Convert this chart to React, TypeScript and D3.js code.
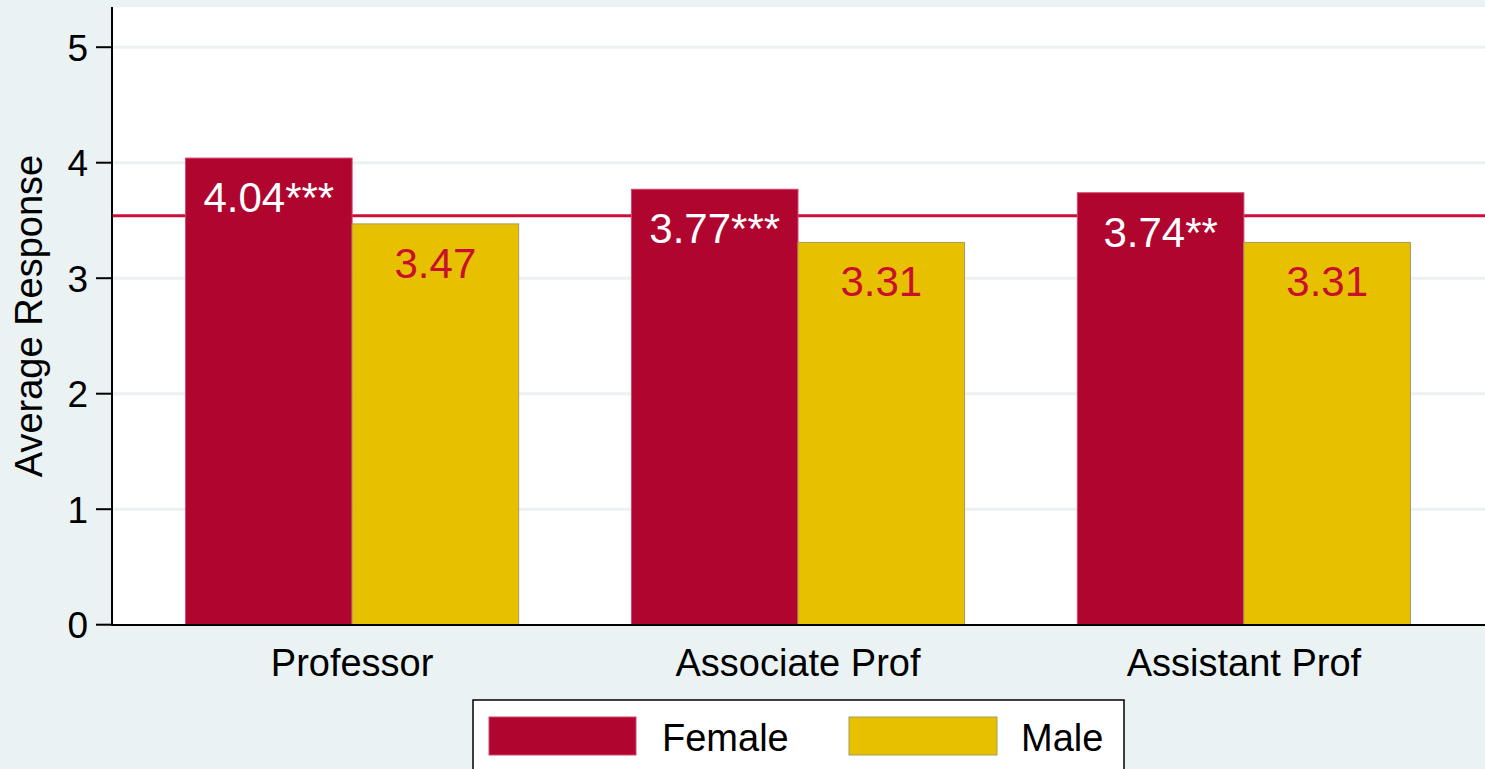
import * as d3 from 'd3';

const categories = ['Professor', 'Associate Prof', 'Assistant Prof'];
const femaleValues = [4.04, 3.77, 3.74];
const maleValues = [3.47, 3.31, 3.31];
const femaleLabels = ['4.04***', '3.77***', '3.74**'];
const maleLabels = ['3.47', '3.31', '3.31'];
const yTicks = [0, 1, 2, 3, 4, 5];
const referenceValue = 3.54;
const seriesNames = ['Female', 'Male'];

const W = 1485;
const H = 769;
const FONT = '"Liberation Sans", Arial, Helvetica, sans-serif';
const BG = '#eaf2f3';
const FEMALE = '#b0052f';
const MALE = '#e7c000';
const REDLINE = '#cc0e3a';
const LABEL_RED = '#c8102e';

const App = () => {
  const plot = { left: 112, top: 7, right: 1485, bottom: 625 };

  const y = d3.scaleLinear().domain([0, 5]).range([624.7, 47.2]);

  const x = d3.scaleBand()
    .domain(categories)
    .range([plot.left, 1484])
    .paddingInner(0.253)
    .paddingOuter(0.165);

  const sub = d3.scaleBand()
    .domain(seriesNames)
    .range([0, x.bandwidth()])
    .padding(0);

  const series = [
    { name: 'Female', values: femaleValues, labels: femaleLabels, fill: FEMALE, stroke: '#d4456a', textFill: '#ffffff' },
    { name: 'Male', values: maleValues, labels: maleLabels, fill: MALE, stroke: '#a99a5a', textFill: LABEL_RED },
  ];

  return (
    <div style={{ position: 'absolute', left: 0, top: 0 }}>
      <svg width={W} height={H} style={{ display: 'block' }} fontFamily={FONT}>
        <rect x={0} y={0} width={W} height={H} fill={BG} />
        <rect x={plot.left} y={plot.top} width={plot.right - plot.left} height={plot.bottom - plot.top} fill="#ffffff" />

        {/* gridlines */}
        {yTicks.filter(t => t > 0).map(t => (
          <line key={`g${t}`} x1={plot.left} x2={plot.right} y1={y(t)} y2={y(t)} stroke={BG} strokeWidth={3} />
        ))}

        {/* reference line */}
        <line x1={plot.left} x2={plot.right} y1={y(referenceValue)} y2={y(referenceValue)} stroke={REDLINE} strokeWidth={3} />

        {/* bars */}
        {series.map(s => categories.map((c, i) => {
          const bx = (x(c) ?? 0) + (sub(s.name) ?? 0);
          const by = y(s.values[i]);
          return (
            <g key={`${s.name}-${c}`}>
              <rect x={bx} y={by} width={sub.bandwidth()} height={y(0) - by} fill={s.fill} stroke={s.stroke} strokeWidth={1} />
              <text x={bx + sub.bandwidth() / 2} y={by + 54} textAnchor="middle" fontSize={42} fill={s.textFill}>
                {s.labels[i]}
              </text>
            </g>
          );
        }))}

        {/* y axis */}
        <line x1={plot.left} x2={plot.left} y1={plot.top} y2={plot.bottom} stroke="#000" strokeWidth={2} />
        {yTicks.map(t => (
          <g key={`t${t}`}>
            <line x1={96} x2={plot.left} y1={y(t)} y2={y(t)} stroke="#000" strokeWidth={2} />
            <text x={88} y={y(t)} dy="0.36em" textAnchor="end" fontSize={37} fill="#000">{t}</text>
          </g>
        ))}
        <text transform={`translate(42,${(plot.top + plot.bottom) / 2}) rotate(-90)`} textAnchor="middle" fontSize={38} fill="#000">
          Average Response
        </text>

        {/* x axis */}
        <line x1={plot.left - 1} x2={plot.right} y1={plot.bottom} y2={plot.bottom} stroke="#000" strokeWidth={2} />
        {categories.map(c => (
          <text key={c} x={(x(c) ?? 0) + x.bandwidth() / 2} y={676} textAnchor="middle" fontSize={38} fill="#000">{c}</text>
        ))}

        {/* legend */}
        <rect x={473} y={700} width={651} height={100} fill="#ffffff" stroke="#000" strokeWidth={1.5} />
        <rect x={489} y={717} width={147} height={38} fill={FEMALE} stroke="#d4456a" strokeWidth={1} />
        <text x={662} y={751} fontSize={38} fill="#000">Female</text>
        <rect x={849} y={717} width={148} height={38} fill={MALE} stroke="#a99a5a" strokeWidth={1} />
        <text x={1021} y={751} fontSize={38} fill="#000">Male</text>
      </svg>
    </div>
  );
};

export default App;
